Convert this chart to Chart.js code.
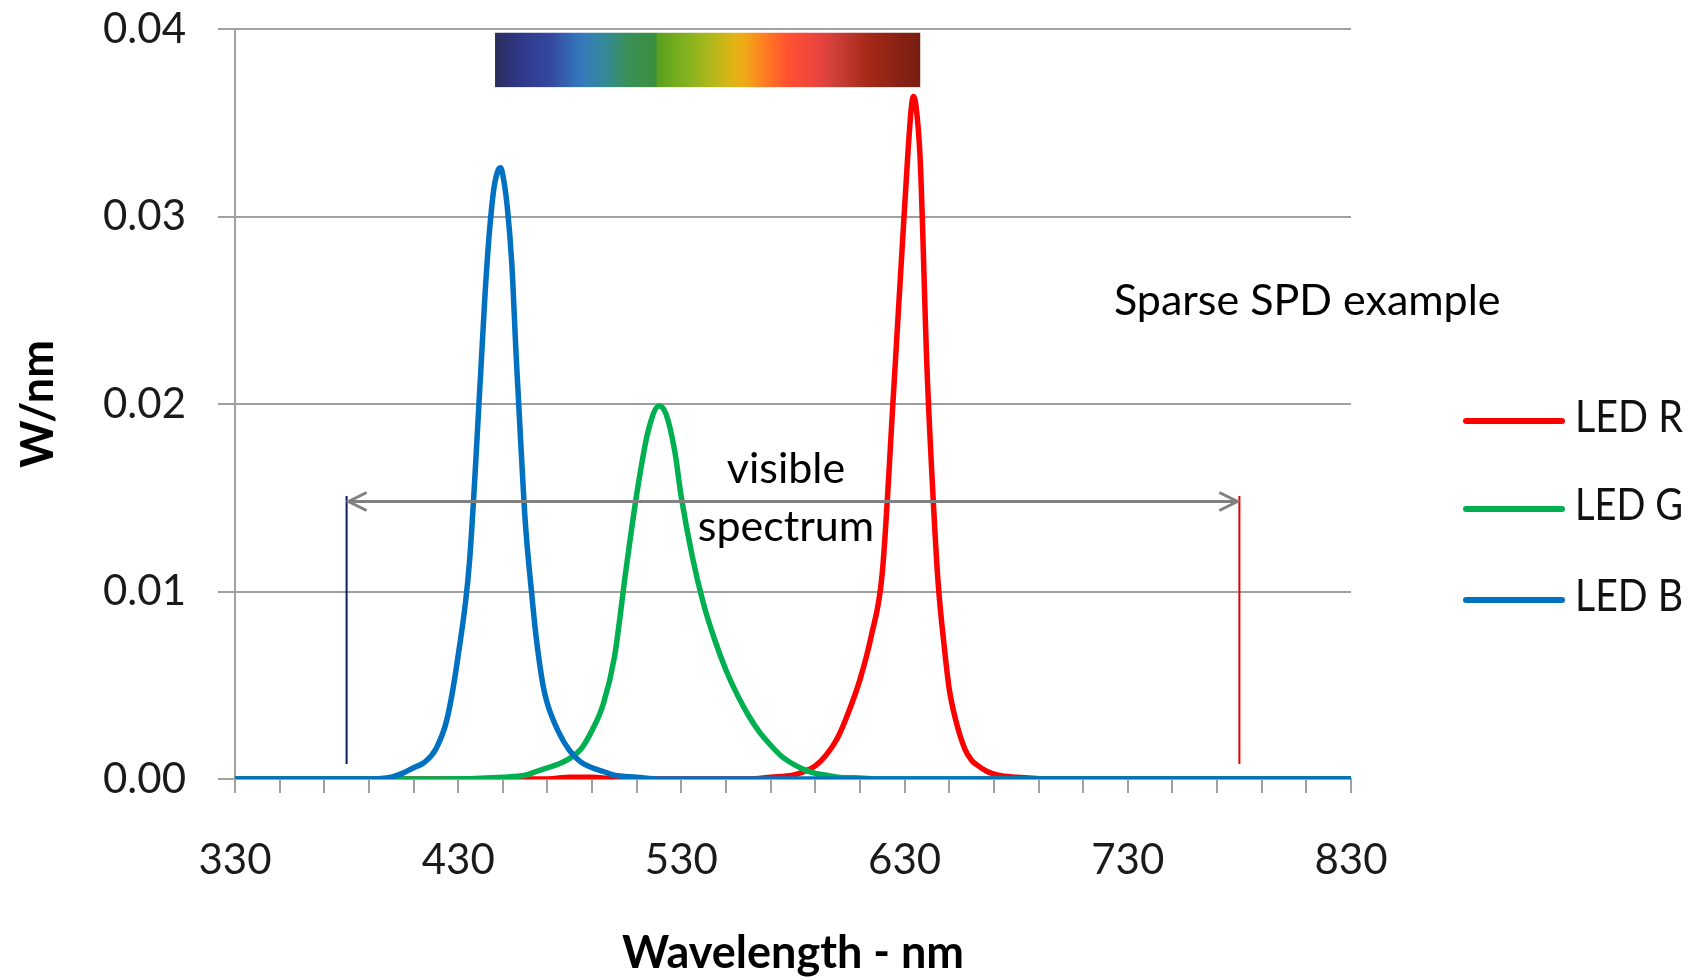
<!DOCTYPE html>
<html>
<head>
<meta charset="utf-8">
<script src="https://cdn.jsdelivr.net/npm/chart.js"></script>
<style>
  html, body { margin: 0; padding: 0; background: #fff; }
</style>
</head>
<body>
<canvas id="spd" width="1691" height="980"></canvas>
<script>
// values (wavelength in nm, power in W/nm)
const seriesLabels = ['LED R', 'LED G', 'LED B'];
const seriesColors = ['#ff0000', '#00b050', '#0070c0'];

const redNm = [330, 470, 480, 490, 500, 560, 570, 580, 585, 590, 595, 600, 605, 610, 615, 620, 625, 630, 633, 634, 635, 637, 640, 643, 645, 648, 650, 653, 657, 660, 663, 667, 672, 680, 700, 830];
const redW  = [0, 0, 0.0001, 0.0001, 0, 0, 0.0001, 0.0002, 0.0004, 0.0007, 0.0013, 0.0022, 0.0036, 0.0053, 0.0076, 0.0110, 0.0205, 0.0305, 0.0358, 0.0364, 0.0360, 0.0330, 0.0220, 0.0145, 0.0105, 0.0068, 0.0048, 0.0031, 0.0016, 0.0010, 0.0007, 0.0004, 0.0002, 0.0001, 0, 0];

const greenNm = [330, 420, 450, 460, 465, 470, 475, 480, 485, 490, 495, 500, 505, 510, 515, 520, 523, 527, 530, 535, 540, 545, 550, 555, 560, 565, 570, 575, 580, 585, 590, 595, 600, 610, 620, 830];
const greenW  = [0, 0, 0.0001, 0.0002, 0.0004, 0.0006, 0.0008, 0.0011, 0.0016, 0.0026, 0.0040, 0.0065, 0.0110, 0.0152, 0.0185, 0.0199, 0.0195, 0.0175, 0.0150, 0.0118, 0.0093, 0.0074, 0.0058, 0.0045, 0.0034, 0.0025, 0.0018, 0.0012, 0.0008, 0.0005, 0.0003, 0.0002, 0.0001, 0.00005, 0, 0];

const blueNm = [330, 390, 400, 405, 410, 415, 420, 425, 430, 435, 440, 442, 444, 446, 448, 449, 450, 452, 454, 456, 458, 460, 463, 465, 468, 470, 475, 480, 485, 490, 495, 500, 510, 520, 830];
const blueW  = [0, 0, 0.0001, 0.0003, 0.0006, 0.0009, 0.0016, 0.0032, 0.0066, 0.0115, 0.0215, 0.0258, 0.0292, 0.0315, 0.0325, 0.0326, 0.0322, 0.0305, 0.0275, 0.0225, 0.0180, 0.0138, 0.0098, 0.0075, 0.0050, 0.0040, 0.0025, 0.0015, 0.0009, 0.0006, 0.0004, 0.0002, 0.0001, 0, 0];

const xTickLabels = [330, 430, 530, 630, 730, 830];

// "visible spectrum" markers and the colour strip, in axis units
const visibleNm = [380, 780];
const arrowW = 0.0148;
const markerW = [0.0151, 0.0008];
const stripNm = [446.5, 637];
const stripW = [0.0369, 0.0398];

const FONT = 'Lato';

function toPoints(xs, ys) {
  return xs.map((x, i) => ({ x: x, y: ys[i] }));
}

const annotations = {
  id: 'annotations',
  afterDatasetsDraw(chart) {
    const ctx = chart.ctx;
    const xs = chart.scales.x, ys = chart.scales.y;
    ctx.save();

    // spectrum strip
    const x0 = xs.getPixelForValue(stripNm[0]), x1 = xs.getPixelForValue(stripNm[1]);
    const y0 = ys.getPixelForValue(stripW[1]), y1 = ys.getPixelForValue(stripW[0]);
    const g = ctx.createLinearGradient(x0, 0, x1, 0);
    [[0, '#2a2e5c'], [0.06, '#30388a'], [0.13, '#3448a0'], [0.20, '#3478be'], [0.26, '#348a98'],
     [0.31, '#3a9058'], [0.378, '#3a8e3e'], [0.382, '#58a01c'], [0.44, '#7cb020'], [0.50, '#a8b81c'],
     [0.56, '#e0b414'], [0.59, '#f0a818'], [0.63, '#ff8020'], [0.69, '#ff5030'], [0.76, '#ea4440'],
     [0.81, '#c83c36'], [0.88, '#a42818'], [1, '#761e12']].forEach(s => g.addColorStop(s[0], s[1]));
    ctx.fillStyle = g;
    ctx.fillRect(x0, y0, x1 - x0, y1 - y0);

    // vertical markers
    const lx = xs.getPixelForValue(visibleNm[0]), rx = xs.getPixelForValue(visibleNm[1]);
    const mt = ys.getPixelForValue(markerW[0]), mb = ys.getPixelForValue(markerW[1]);
    ctx.lineWidth = 2;
    ctx.strokeStyle = '#0a1f5c';
    ctx.beginPath(); ctx.moveTo(lx, mt); ctx.lineTo(lx, mb); ctx.stroke();
    ctx.strokeStyle = '#e00000';
    ctx.beginPath(); ctx.moveTo(rx, mt); ctx.lineTo(rx, mb); ctx.stroke();

    // double arrow
    const ay = ys.getPixelForValue(arrowW);
    ctx.strokeStyle = '#808080';
    ctx.lineWidth = 3;
    ctx.beginPath();
    ctx.moveTo(lx + 2, ay); ctx.lineTo(rx - 2, ay);
    ctx.moveTo(lx + 20, ay - 9); ctx.lineTo(lx + 2, ay); ctx.lineTo(lx + 20, ay + 9);
    ctx.moveTo(rx - 20, ay - 9); ctx.lineTo(rx - 2, ay); ctx.lineTo(rx - 20, ay + 9);
    ctx.stroke();

    // texts
    ctx.fillStyle = '#000';
    ctx.font = '43px ' + FONT;
    ctx.textBaseline = 'middle';
    ctx.textAlign = 'center';
    ctx.fillText('visible', 786, 469, 124);
    ctx.fillText('spectrum', 786, 527, 180);
    ctx.textAlign = 'left';
    ctx.fillText('Sparse SPD example', 1114, 301, 391);
    ctx.restore();
  }
};

const sideLegend = {
  id: 'sideLegend',
  afterDraw(chart) {
    const ctx = chart.ctx;
    const rows = [421, 509, 600];
    ctx.save();
    ctx.lineCap = 'round';
    ctx.lineWidth = 6;
    ctx.font = '44px ' + FONT;
    ctx.textBaseline = 'middle';
    ctx.textAlign = 'left';
    seriesLabels.forEach((label, i) => {
      ctx.strokeStyle = seriesColors[i];
      ctx.beginPath();
      ctx.moveTo(1466, rows[i]);
      ctx.lineTo(1562, rows[i]);
      ctx.stroke();
      ctx.fillStyle = '#111';
      ctx.fillText(label, 1575, rows[i] - 3, 108);
    });
    ctx.restore();
  }
};

// blue first so it is drawn on top, as in the picture
const order = [2, 1, 0];
const datasets = order.map(i => ({
  label: seriesLabels[i],
  data: toPoints([redNm, greenNm, blueNm][i], [redW, greenW, blueW][i]),
  borderColor: seriesColors[i],
  backgroundColor: seriesColors[i],
  borderWidth: 5.5,
  pointRadius: 0,
  fill: false,
  cubicInterpolationMode: 'monotone'
}));

const gridGrey = '#a0a0a0';

new Chart(document.getElementById('spd').getContext('2d'), {
  type: 'line',
  data: { datasets: datasets },
  options: {
    responsive: false,
    animation: false,
    devicePixelRatio: 1,
    layout: { padding: { left: 0, right: 340, top: 29, bottom: 0 } },
    plugins: { legend: { display: false }, tooltip: { enabled: false } },
    scales: {
      x: {
        type: 'linear',
        min: 330,
        max: 830,
        ticks: {
          stepSize: 20,
          autoSkip: false,
          maxRotation: 0,
          padding: 42,
          color: '#1a1a1a',
          font: { family: FONT, size: 42 },
          callback: v => (xTickLabels.includes(Math.round(v)) ? String(Math.round(v)) : '')
        },
        grid: { drawOnChartArea: false, drawTicks: true, tickLength: 14, color: gridGrey, lineWidth: 2 },
        border: { color: gridGrey, width: 2 },
        title: {
          display: true,
          text: 'Wavelength - nm',
          color: '#000',
          font: { family: FONT, size: 45, weight: 'bold' },
          padding: { top: 0, bottom: 0 }
        },
        afterFit: s => { s.height = 201; }
      },
      y: {
        min: 0,
        max: 0.04,
        ticks: {
          stepSize: 0.01,
          padding: 32,
          color: '#1a1a1a',
          font: { family: FONT, size: 42 },
          callback: v => v.toFixed(2)
        },
        grid: { color: gridGrey, lineWidth: 2, tickLength: 17 },
        border: { color: gridGrey, width: 2 },
        title: {
          display: true,
          text: 'W/nm',
          color: '#000',
          font: { family: FONT, size: 45, weight: 'bold' },
          padding: { top: 11, bottom: 0 }
        },
        // fixed axis width; the label padding should not push the plot down
        afterFit: s => { s.width = 235; s.paddingTop = 0; s.paddingBottom = 0; }
      }
    }
  },
  plugins: [annotations, sideLegend]
});
</script>
</body>
</html>
